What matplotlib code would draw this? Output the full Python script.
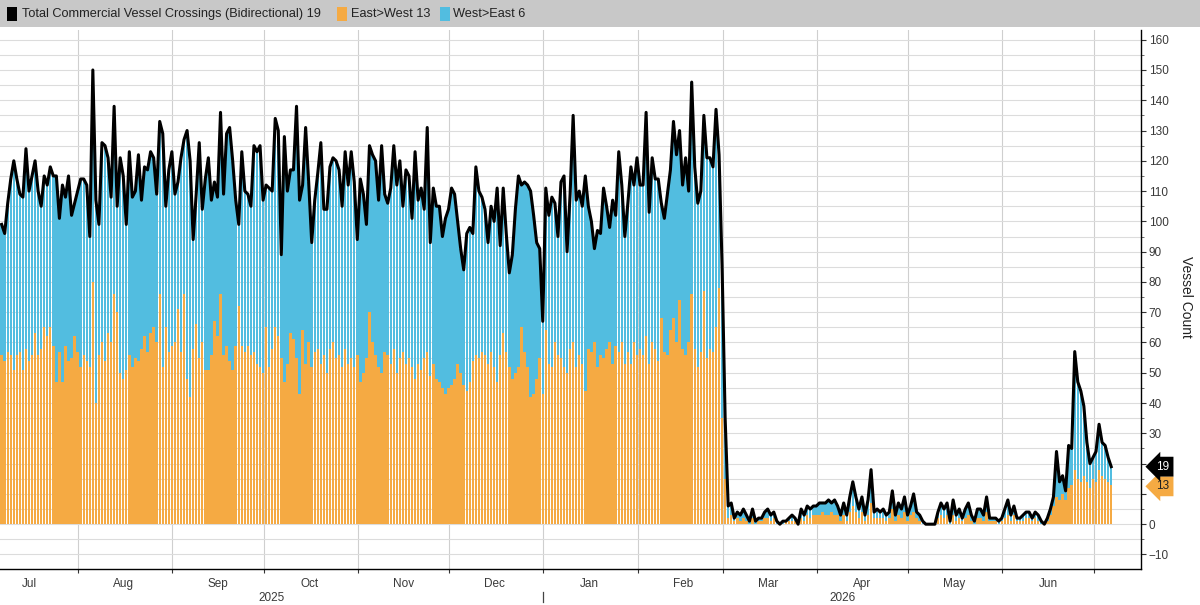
import numpy as np
import pandas as pd
import matplotlib
matplotlib.use('Agg')
import matplotlib.pyplot as plt
import matplotlib.dates as mdates
import matplotlib.transforms as mtransforms
from matplotlib.patches import Rectangle
from matplotlib.ticker import MultipleLocator, NullFormatter, FixedLocator, FuncFormatter

plt.rcParams['font.family'] = ['Liberation Sans', 'DejaVu Sans']

start = '2025-07-06'

# daily totals (both directions)
total = [
    99, 96, 106, 114, 120, 114, 109, 108, 124, 110,
    115, 120, 110, 105, 115, 112, 118, 115, 115, 101,
    112, 108, 115, 102, 106, 110, 114, 114, 112, 95,
    150, 107, 99, 126, 125, 121, 108, 138, 105, 121,
    115, 99, 123, 108, 110, 122, 107, 118, 117, 123,
    121, 109, 133, 129, 105, 117, 123, 109, 113, 121,
    127, 130, 120, 94, 109, 126, 104, 114, 121, 107,
    113, 108, 136, 109, 129, 131, 120, 107, 99, 123,
    110, 109, 105, 125, 123, 125, 107, 112, 111, 110,
    134, 130, 89, 128, 110, 117, 117, 138, 107, 112,
    131, 113, 93, 107, 116, 126, 104, 104, 118, 121,
    120, 117, 105, 123, 112, 123, 113, 94, 114, 109,
    99, 125, 122, 120, 107, 125, 109, 106, 111, 125,
    112, 120, 105, 117, 115, 101, 123, 107, 111, 104,
    131, 93, 111, 105, 105, 95, 101, 104, 111, 109,
    100, 91, 84, 96, 98, 96, 118, 110, 108, 104,
    93, 105, 100, 111, 92, 111, 96, 83, 89, 104,
    115, 112, 113, 112, 110, 102, 93, 91, 67, 111,
    102, 108, 106, 95, 113, 115, 90, 109, 135, 107,
    110, 105, 115, 105, 100, 91, 97, 96, 111, 105,
    98, 107, 102, 123, 112, 95, 106, 118, 112, 121,
    112, 112, 136, 103, 121, 114, 114, 106, 101, 109,
    117, 133, 122, 130, 112, 121, 110, 146, 118, 106,
    110, 135, 121, 121, 118, 137, 122, 85, 35, 6,
    7, 2, 4, 3, 5, 3, 1, 5, 1, 2,
    2, 4, 5, 3, 4, 1, 0, 1, 1, 2,
    3, 2, 0, 5, 3, 6, 5, 6, 6, 7,
    7, 7, 8, 7, 8, 6, 3, 7, 3, 9,
    14, 9, 5, 9, 3, 8, 18, 4, 5, 4,
    5, 3, 4, 11, 3, 7, 5, 9, 3, 6,
    10, 4, 3, 1, 0, 0, 0, 0, 4, 7,
    5, 7, 1, 8, 3, 5, 2, 5, 7, 3,
    1, 5, 5, 3, 9, 2, 2, 2, 1, 2,
    5, 8, 3, 6, 2, 2, 3, 4, 4, 2,
    4, 3, 1, 0, 2, 5, 9, 24, 14, 16,
    11, 26, 25, 57, 47, 44, 39, 27, 20, 22,
    24, 33, 27, 26, 22, 19,
]

# East>West part of each day
east = [
    56, 54, 57, 56, 51, 56, 57, 51, 58, 54,
    56, 63, 56, 58, 65, 62, 65, 59, 47, 57,
    47, 59, 54, 55, 62, 57, 52, 56, 54, 52,
    80, 40, 56, 60, 54, 63, 60, 76, 70, 50,
    48, 51, 56, 52, 55, 54, 58, 62, 57, 63,
    65, 60, 76, 52, 65, 57, 59, 60, 71, 57,
    76, 48, 42, 58, 66, 55, 60, 51, 51, 56,
    67, 62, 76, 56, 59, 54, 51, 59, 72, 59,
    57, 59, 56, 57, 53, 52, 50, 65, 52, 58,
    65, 62, 55, 47, 53, 63, 61, 55, 43, 64,
    53, 60, 52, 57, 58, 53, 56, 50, 58, 60,
    55, 56, 52, 58, 53, 55, 52, 56, 47, 50,
    55, 70, 60, 56, 52, 50, 57, 56, 53, 58,
    50, 55, 57, 53, 55, 52, 48, 53, 51, 55,
    57, 49, 53, 48, 47, 45, 43, 45, 46, 48,
    53, 50, 46, 44, 47, 54, 56, 55, 57, 56,
    53, 57, 52, 47, 56, 63, 57, 52, 48, 50,
    52, 65, 57, 52, 42, 43, 48, 55, 43, 64,
    53, 52, 60, 56, 55, 52, 50, 58, 60, 52,
    56, 53, 44, 58, 57, 60, 52, 56, 55, 58,
    60, 53, 59, 57, 60, 53, 57, 53, 60, 56,
    58, 56, 62, 53, 60, 58, 54, 68, 57, 56,
    64, 68, 60, 74, 58, 56, 60, 76, 58, 52,
    57, 77, 55, 58, 57, 65, 78, 35, 15, 2,
    3, 1, 2, 1, 2, 1, 0, 2, 0, 1,
    1, 2, 2, 1, 2, 0, 0, 0, 1, 1,
    1, 1, 0, 2, 1, 3, 2, 3, 3, 3,
    4, 3, 3, 4, 3, 3, 1, 3, 1, 4,
    6, 4, 2, 4, 1, 3, 7, 2, 2, 2,
    2, 1, 2, 5, 1, 3, 2, 4, 1, 3,
    4, 2, 1, 0, 0, 0, 0, 0, 2, 3,
    2, 3, 0, 3, 1, 2, 1, 2, 3, 1,
    0, 2, 2, 1, 4, 1, 1, 1, 0, 1,
    2, 3, 1, 3, 1, 1, 1, 2, 2, 1,
    2, 1, 0, 0, 1, 3, 6, 9, 8, 10,
    8, 12, 13, 18, 15, 14, 16, 14, 12, 15,
    14, 18, 16, 15, 14, 13,
]

total = np.array(total, dtype=float)
east = np.array(east, dtype=float)
west = total - east
dates = pd.date_range(start, periods=len(total), freq='D')

ORANGE = '#f5aa43'
BLUE = '#52bde0'
TXT = '#3a3a3a'

W, H = 1200, 605
fig = plt.figure(figsize=(W / 100, H / 100), dpi=100)
ax = fig.add_axes([0, (H - 569) / H, 1141 / W, 539 / H])

# grey legend strip
fig.patches.append(Rectangle((0, 1 - 27 / H), 1, 27 / H, transform=fig.transFigure,
                             fc='#c8c8c8', ec='none', zorder=0))

d0 = mdates.date2num(dates[0])
x = mdates.date2num(dates) + 0.8

ax.bar(x, east, width=0.8, color=ORANGE, linewidth=0, zorder=2)
ax.bar(x, west, bottom=east, width=0.8, color=BLUE, linewidth=0, zorder=2)
ax.plot(x, total, color='black', lw=2.2, solid_joinstyle='round', zorder=3)

ax.set_xlim(d0 + 0.26, d0 + 375.6)
ax.set_ylim(-14.8, 163.2)

for s in ['left', 'top']:
    ax.spines[s].set_visible(False)
for s in ['bottom', 'right']:
    ax.spines[s].set_color('black')
    ax.spines[s].set_linewidth(1.0)

# right value axis; 20 and 10 sit behind the last-value tags
ax.yaxis.tick_right()
ax.yaxis.set_major_locator(MultipleLocator(10))
ax.yaxis.set_minor_locator(MultipleLocator(5))
ax.yaxis.set_major_formatter(FuncFormatter(
    lambda v, p: '' if round(v) in (10, 20) else f'{v:.0f}'.replace('-', '\u2212')))
ax.tick_params(axis='y', which='major', length=3.5, width=0.8, pad=2,
               labelsize=8.5, labelcolor=TXT, color='#333')
ax.tick_params(axis='y', which='minor', length=2, width=0.6, color='#555')
ax.grid(axis='y', which='both', color='#dcdcdc', lw=0.8, zorder=0)

# months: boundaries as ticks/grid, names centred mid-month (Jul 2025 .. Jun 2026)
mids = pd.date_range('2025-07-01', '2026-06-01', freq='MS') + pd.Timedelta(days=15)
ax.xaxis.set_major_locator(mdates.MonthLocator())
ax.xaxis.set_major_formatter(NullFormatter())
ax.xaxis.set_minor_locator(FixedLocator(mdates.date2num(mids)))
ax.xaxis.set_minor_formatter(mdates.DateFormatter('%b'))
ax.tick_params(axis='x', which='major', length=3, width=0.8, color='#333')
ax.tick_params(axis='x', which='minor', length=0, pad=6.5, labelsize=8.5, labelcolor=TXT)
ax.grid(axis='x', which='major', color='#cfcfcf', lw=0.8, zorder=0)
ax.set_axisbelow(True)

# year labels and separator
trans = mtransforms.blended_transform_factory(ax.transData, ax.transAxes)
jan1 = mdates.date2num(pd.Timestamp('2026-01-01'))
lo, hi = ax.get_xlim()
ax.text((lo + jan1) / 2, -0.054, '2025', transform=trans, ha='center', va='center',
        fontsize=8.5, color=TXT)
ax.text((jan1 + hi) / 2, -0.054, '2026', transform=trans, ha='center', va='center',
        fontsize=8.5, color=TXT)
ax.plot([jan1, jan1], [-0.042, -0.062], transform=trans, color='#444', lw=0.9, clip_on=False)

# right axis label
fig.text(1186 / W, 1 - 297 / H, 'Vessel Count', rotation=-90, ha='center', va='center',
         fontsize=10, color='#222')

# last-value tags
tag = mtransforms.blended_transform_factory(ax.transAxes, ax.transData)
ax.text(1163 / 1141, total[-1], f'{total[-1]:.0f}', transform=tag, ha='center', va='center',
        fontsize=8.5, color='white', zorder=10, clip_on=False,
        bbox=dict(boxstyle='larrow,pad=0.33', fc='black', ec='none'))
ax.text(1163 / 1141, east[-1] - 0.5, f'{east[-1]:.0f}', transform=tag, ha='center', va='center',
        fontsize=8.5, color='#222', zorder=9, clip_on=False,
        bbox=dict(boxstyle='larrow,pad=0.33', fc=ORANGE, ec='none'))

# legend in grey strip
yc = 1 - 14 / H
items = [
    (7, 'black', 22, f'Total Commercial Vessel Crossings (Bidirectional) {total[-1]:.0f}'),
    (337, ORANGE, 351, f'East>West {east[-1]:.0f}'),
    (440, BLUE, 453, f'West>East {west[-1]:.0f}'),
]
for sx, col, tx, label in items:
    fig.patches.append(Rectangle((sx / W, yc - 6.5 / H), 10 / W, 13 / H,
                                 transform=fig.transFigure, fc=col, ec='none', zorder=1))
    fig.text(tx / W, yc, label, ha='left', va='center', fontsize=9.2, color='#222')

fig.savefig('out.png', dpi=100)
